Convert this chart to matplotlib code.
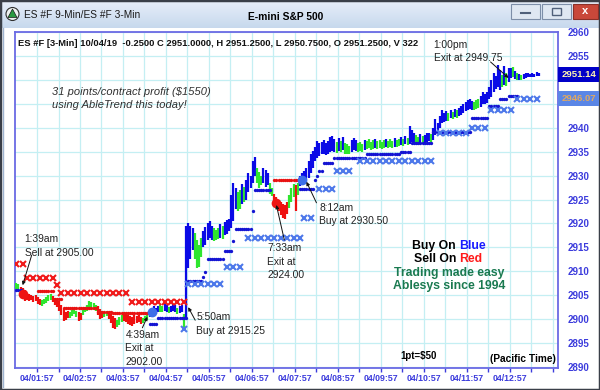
import numpy as np
import matplotlib.pyplot as plt
from matplotlib.patches import Rectangle, Circle, Polygon
from matplotlib.transforms import blended_transform_factory

plt.rcParams['font.family'] = ['Liberation Sans', 'DejaVu Sans']

# ---------------- data ----------------
# ES #F 3-min bars, first bar at 01:28 (minutes after midnight)
bar_start = 88
bar_minutes = 3

bar_hi = [
    2907.5, 2907.3, 2906.8, 2906.5, 2906.0, 2905.5, 2905.2, 2905.0, 2904.8, 2905.0,
    2904.6, 2904.2, 2904.0, 2904.3, 2904.6, 2905.0, 2905.2, 2904.8, 2904.5, 2904.2,
    2903.8, 2903.0, 2902.2, 2901.5, 2901.8, 2901.6, 2902.0, 2902.2, 2901.8, 2901.5,
    2901.2, 2902.0, 2902.6, 2903.0, 2903.8, 2903.6, 2903.4, 2903.0, 2902.8, 2902.2,
    2901.8, 2901.6, 2901.8, 2901.4, 2901.0, 2900.6, 2900.2, 2899.8, 2900.4, 2900.8,
    2901.0, 2901.2, 2900.8, 2900.6, 2900.4, 2900.8, 2900.6, 2900.9, 2900.4, 2900.2,
    2900.6, 2900.8, 2901.6, 2902.4, 2902.7, 2902.4, 2902.8, 2903.0, 2902.8, 2903.3,
    2903.0, 2902.6, 2902.8, 2903.2, 2902.9, 2902.4, 2902.8, 2903.0, 2901.0, 2919.5,
    2920.0, 2919.5, 2919.0, 2918.0, 2916.5, 2915.5, 2917.0, 2918.5, 2919.2, 2920.0,
    2920.5, 2919.5, 2919.0, 2918.6, 2919.0, 2919.8, 2919.4, 2920.2, 2920.8, 2921.0,
    2926.0, 2928.5, 2927.5, 2926.5, 2927.0, 2928.2, 2927.6, 2929.0, 2930.6, 2930.0,
    2933.0, 2933.9, 2931.6, 2930.8, 2930.0, 2931.5, 2931.2, 2930.5, 2928.5, 2927.5,
    2926.2, 2925.5, 2925.0, 2924.5, 2924.0, 2923.8, 2924.5, 2926.0, 2927.5, 2928.3,
    2928.0, 2928.5, 2930.0, 2930.5, 2931.0, 2931.5, 2933.0, 2934.5, 2935.2, 2936.0,
    2937.3, 2936.8, 2937.0, 2937.5, 2936.8, 2937.2, 2938.0, 2938.3, 2937.6, 2937.0,
    2937.8, 2937.2, 2938.0, 2936.8, 2936.6, 2936.2, 2937.4, 2937.8, 2937.5, 2936.8,
    2937.0, 2936.6, 2937.4, 2937.2, 2937.6, 2937.0, 2937.4, 2937.7, 2937.2, 2937.5,
    2937.0, 2937.4, 2937.7, 2937.3, 2937.6, 2937.2, 2937.8, 2937.5, 2937.7, 2938.0,
    2937.6, 2938.2, 2937.8, 2940.4, 2939.5, 2938.8, 2938.4, 2938.0, 2938.6, 2938.2,
    2938.5, 2939.0, 2938.8, 2938.6, 2940.0, 2941.9, 2941.0, 2942.5, 2943.6, 2943.0,
    2943.4, 2943.0, 2943.8, 2943.2, 2944.0, 2943.6, 2944.2, 2944.6, 2945.0, 2945.4,
    2945.8, 2946.1, 2945.6, 2945.4, 2945.8, 2946.0, 2946.6, 2947.4, 2947.0, 2947.5,
    2948.5, 2950.0, 2951.5, 2950.8, 2953.2, 2952.0, 2951.0, 2953.0, 2951.5, 2952.4,
    2952.4, 2952.6, 2951.8, 2951.4, 2951.3, 2951.0, 2951.2, 2951.4, 2951.5, 2951.3,
    2951.5, 2951.2, 2951.6, 2951.4,
]
bar_lo = [
    2906.3, 2906.0, 2904.8, 2904.2, 2903.8, 2904.0, 2903.7, 2904.0, 2903.5, 2903.9,
    2903.2, 2903.0, 2902.8, 2903.2, 2903.4, 2903.8, 2904.0, 2903.5, 2903.0, 2902.6,
    2901.8, 2900.8, 2899.6, 2899.8, 2900.2, 2900.2, 2900.6, 2901.0, 2900.4, 2899.6,
    2899.8, 2900.8, 2901.4, 2901.8, 2902.4, 2902.2, 2902.0, 2901.8, 2900.8, 2900.0,
    2900.2, 2900.4, 2900.6, 2900.0, 2899.2, 2898.2, 2897.9, 2898.4, 2898.8, 2899.4,
    2899.6, 2899.4, 2899.0, 2898.8, 2898.6, 2899.0, 2899.2, 2899.4, 2899.0, 2899.2,
    2899.6, 2899.8, 2900.4, 2900.8, 2901.2, 2901.0, 2901.4, 2901.6, 2901.4, 2901.8,
    2901.6, 2901.2, 2901.4, 2901.8, 2901.5, 2901.0, 2901.2, 2901.4, 2898.0, 2900.3,
    2910.6, 2912.5, 2914.5, 2912.5, 2910.6, 2911.0, 2913.0, 2915.0, 2915.5, 2916.5,
    2917.0, 2916.5, 2916.3, 2916.5, 2916.8, 2917.0, 2916.8, 2917.5, 2917.8, 2918.4,
    2919.0, 2920.5, 2923.0, 2922.6, 2923.0, 2924.0, 2924.5, 2925.0, 2926.5, 2927.5,
    2928.5, 2930.0, 2928.5, 2927.4, 2928.0, 2928.5, 2927.6, 2928.0, 2926.2, 2925.8,
    2924.0, 2923.2, 2922.5, 2921.8, 2921.2, 2921.0, 2922.0, 2923.3, 2924.5, 2925.5,
    2922.5, 2926.0, 2927.8, 2928.0, 2928.5, 2929.0, 2929.5, 2930.5, 2931.5, 2933.0,
    2933.7, 2934.0, 2934.5, 2934.5, 2934.2, 2934.6, 2935.0, 2935.2, 2935.0, 2934.8,
    2935.2, 2935.0, 2935.4, 2934.6, 2934.5, 2934.6, 2935.0, 2935.4, 2935.2, 2935.0,
    2935.2, 2935.0, 2935.4, 2935.6, 2935.8, 2935.4, 2935.6, 2935.8, 2935.6, 2935.8,
    2935.6, 2935.8, 2936.0, 2935.8, 2936.0, 2935.8, 2936.0, 2936.0, 2936.2, 2936.4,
    2936.2, 2936.5, 2936.4, 2936.6, 2937.0, 2936.8, 2936.6, 2936.4, 2936.8, 2936.6,
    2936.8, 2937.0, 2937.2, 2937.0, 2937.5, 2938.5, 2939.0, 2940.0, 2941.0, 2941.2,
    2941.5, 2941.5, 2942.0, 2941.8, 2942.2, 2942.0, 2942.4, 2942.6, 2943.0, 2943.4,
    2943.6, 2944.0, 2943.8, 2943.6, 2944.0, 2944.2, 2944.4, 2945.0, 2945.0, 2945.2,
    2946.0, 2946.5, 2947.5, 2948.0, 2948.5, 2947.8, 2948.5, 2949.0, 2948.8, 2949.5,
    2950.3, 2950.6, 2950.2, 2950.0, 2949.9, 2950.0, 2950.2, 2950.4, 2950.6, 2950.5,
    2950.7, 2950.6, 2950.8, 2950.8,
]
# AbleTrend bar colour: B = up trend, G = neutral, R = down trend
bar_colour = ("GGRRRRRRRR" "RRGGGGGRRR" "RRRRRGGGGR" "RGGGGGGGRR" "RGGRRRRGGG"
              "RRRRRRRRRG" "GGBBBBBGGB" "BGBBBGBBGB" "BBBGGGGBBB" "BBGGGBGBBB"
              "BBBGGBGBBB" "BBGGGBBBGG" "RRRRRRRGGG" "RGBBBBBBBB" "BBBBBBBBBG"
              "BGBGGGBBBG" "GGBGGGGBGG" "GGBGGGBGGB" "GBGBBBGGBG" "BBBGBBBBBB"
              "BGBGBGBBBB" "BBBGGGBBBB" "BBBBBBGBGB" "BGBGBGBBBB" "BBBB")

# stop dots: first bar, last bar, price level, side
dot_first = [0, 10, 18, 22, 38, 45, 62, 66, 80, 87, 88, 89, 97, 101, 102, 110, 111,
             120, 132, 139, 140, 141, 143, 148, 163, 179, 184, 194, 212, 220, 225, 229]
dot_last = [2, 17, 21, 37, 44, 61, 65, 79, 86, 87, 88, 96, 100, 101, 109, 110, 118,
            131, 138, 139, 140, 142, 147, 162, 178, 183, 193, 211, 219, 224, 228, 233]
dot_level = [2906.0, 2905.8, 2904.2, 2902.3, 2901.6, 2901.2, 2899.0, 2900.2, 2908.0,
             2908.8, 2909.8, 2912.5, 2914.2, 2916.3, 2918.8, 2922.6, 2927.0, 2929.0,
             2927.2, 2929.0, 2930.0, 2931.0, 2932.7, 2933.7, 2934.5, 2935.0, 2936.9,
             2939.2, 2942.1, 2944.6, 2946.0, 2946.7]
dot_side = "B" + "RRRRR" + "BBBBBBBBBBB" + "R" + "BBBBBBBBBBBBBB"

# trailing stop crosses (drawn every 3rd bar): first bar, last bar, level, side
x_first = [0, 5, 19, 21, 54, 78, 80, 98, 108, 134, 141, 149, 160, 197, 212, 221, 233]
x_last = [3, 17, 19, 51, 78, 78, 97, 105, 132, 139, 147, 156, 194, 211, 219, 232, 243]
x_level = [2911.5, 2908.5, 2907.2, 2905.4, 2903.5, 2898.0, 2907.3, 2911.0, 2917.0,
           2921.2, 2927.2, 2931.0, 2933.1, 2938.8, 2940.0, 2943.6, 2946.1]
x_side = "RRRRR" + "BBBBBBBBBBBB"

# entry / exit signal circles
sig_bar = [3, 63, 121, 133]
sig_price = [2905.3, 2901.6, 2924.3, 2929.0]
sig_side = "RBRB"

# trade notes: bar, price the arrow points at, text lines
note_bar = [3, 61, 80, 121, 135, 229]
note_price = [2907.1, 2900.5, 2902.5, 2923.85, 2928.7, 2950.4]
note_lines = [["1:39am", "Sell at 2905.00"],
              ["4:39am", "Exit at", "2902.00"],
              ["5:50am", "Buy at 2915.25"],
              ["7:33am", "Exit at", "2924.00"],
              ["8:12am", "Buy at 2930.50"],
              ["1:00pm", "Exit at 2949.75"]]
# offsets in pixels from the arrow tip: arrow tail, first text line
note_tail = [(9, 30), (-5, -11), (7, -13), (8, -35), (10, -21), (-18, 16)]
note_text = [(2, 46), (-22, -18), (8, -10), (-9, -43), (13, -26), (-75, 33)]

hour_ticks = [117, 177, 237, 297, 357, 417, 477, 537, 597, 657, 717, 777]
hour_labels = ["04/01:57", "04/02:57", "04/03:57", "04/04:57", "04/05:57", "04/06:57",
               "04/07:57", "04/08:57", "04/09:57", "04/10:57", "04/11:57", "04/12:57"]
price_ticks = [2890, 2895, 2900, 2905, 2910, 2915, 2920, 2925, 2930, 2935, 2940,
               2945, 2950, 2955, 2960]
# 2950 and 2945 sit under the last-price / stop boxes
price_labels = ["2890", "2895", "2900", "2905", "2910", "2915", "2920", "2925", "2930",
                "2935", "2940", "", "", "2955", "2960"]
last_price = 2951.14
stop_price = 2946.07

header = ("ES #F [3-Min] 10/04/19  -0.2500 C 2951.0000, H 2951.2500, "
          "L 2950.7500, O 2951.2500, V 322")

# ---------------- styles ----------------
bar_pal = {'B': '#0a0ae6', 'G': '#2ee62e', 'R': '#ee1010'}
dot_pal = {'B': '#1414d2', 'R': '#e81212'}
x_pal = {'B': '#4d78ea', 'R': '#f01a1a'}
sig_pal = {'B': '#3d6fe8', 'R': '#ee1414'}
axis_blue = '#3c3cdc'
grid_col = '#c4eff3'

fig = plt.figure(figsize=(6, 3.9), dpi=100)

# window chrome drawn in pixel coordinates
chrome = fig.add_axes([0, 0, 1, 1])
top_col = np.array([0.90, 0.93, 0.975])
bot_col = np.array([0.78, 0.85, 0.93])
grad = np.linspace(0, 1, 40)[:, None, None]
chrome.imshow(top_col + (bot_col - top_col) * grad, extent=(0, 600, 28, 2), aspect='auto')
chrome.set_xlim(0, 600)
chrome.set_ylim(390, 0)
chrome.axis('off')
px = chrome.transData

chrome.add_patch(Rectangle((0, 0), 600, 390, fill=False, ec='#3a3f48', lw=2.5))
chrome.plot([3, 3], [28, 387], color='#9fb4d0', lw=1)
chrome.add_patch(Circle((12.5, 14), 6.5, fc='#eef2f0', ec='#303030', lw=0.8))
chrome.add_patch(Polygon([(12.5, 9), (8, 17.5), (17, 17.5)], fc='#2a9a40', ec='#1a1a1a', lw=0.5))
chrome.text(24, 15, "ES #F 9-Min/ES #F 3-Min", fontsize=7.3, va='center', color='#1a1a1a')
chrome.text(286, 17, "E-mini S&P 500", fontsize=7.4, fontweight='bold', ha='center', va='center')

chrome.add_patch(Rectangle((511, 4), 29, 15, fc='#dfe7f2', ec='#7d8ea8', lw=0.8))
chrome.plot([521, 530], [13, 13], color='#50607a', lw=1.5)
chrome.add_patch(Rectangle((542, 4), 29, 15, fc='#dfe7f2', ec='#7d8ea8', lw=0.8))
chrome.add_patch(Rectangle((552, 8), 9, 7, fill=False, ec='#50607a', lw=1))
chrome.add_patch(Rectangle((573, 4), 25, 15, fc='#c9483a', ec='#8a3028', lw=0.8))
chrome.text(585.5, 11.5, "x", color='white', fontsize=8, fontweight='bold', ha='center', va='center')

# ---------------- price chart ----------------
ax = fig.add_axes([15 / 600, 1 - 368 / 390, 543 / 600, 336 / 390])
t = bar_start + bar_minutes * np.arange(len(bar_hi))

ax.vlines(t, bar_lo, bar_hi, colors=[bar_pal[c] for c in bar_colour], lw=1.6, zorder=4)

for a, b, lev, s in zip(dot_first, dot_last, dot_level, dot_side):
    tt = t[a:b + 1]
    ax.plot(tt, np.full(len(tt), lev), 'o', ms=2.4, mec='none', color=dot_pal[s], zorder=4.5)

for a, b, lev, s in zip(x_first, x_last, x_level, x_side):
    tt = t[a:b + 1:3]
    ax.plot(tt, np.full(len(tt), lev), 'x', ms=4.4, mew=1.5, color=x_pal[s], zorder=5)

for b, p, s in zip(sig_bar, sig_price, sig_side):
    ax.plot(t[b], p, 'o', ms=7, mec='none', color=sig_pal[s], zorder=6)

for b, p, lines, tail, txt in zip(note_bar, note_price, note_lines, note_tail, note_text):
    ax.annotate('', xy=(t[b], p), xytext=tail, textcoords='offset pixels',
                arrowprops=dict(arrowstyle='-|>', color='#111111', lw=0.7,
                                mutation_scale=5, shrinkA=0, shrinkB=0), zorder=7)
    for k, line in enumerate(lines):
        ax.annotate(line, xy=(t[b], p), xytext=(txt[0], txt[1] - 13.5 * k),
                    textcoords='offset pixels', ha='left', va='center',
                    fontsize=7.4, color='#222222', zorder=7)

ax.set_xlim(86.3, 844.0)
ax.set_ylim(2889.8, 2960)

ax.set_xticks(hour_ticks, hour_labels)
ax.set_xticks([h + 30 for h in hour_ticks] + [hour_ticks[-1] + 60], minor=True)
ax.tick_params(axis='x', which='both', direction='out', length=3, width=1,
               color=axis_blue, pad=1.5, labelsize=6.3, labelcolor=axis_blue)
for lab in ax.get_xticklabels():
    lab.set_fontweight('bold')

ax.yaxis.tick_right()
ax.set_yticks(price_ticks, price_labels)
ax.tick_params(axis='y', length=0, pad=7, labelsize=7, labelcolor=axis_blue)
for lab in ax.get_yticklabels():
    lab.set_fontweight('bold')

ax.grid(True, which='both', axis='x', color=grid_col, lw=0.9)
ax.grid(True, axis='y', color=grid_col, lw=0.9)
ax.set_axisbelow(True)
for sp in ax.spines.values():
    sp.set_color('#6a6ae4')
    sp.set_linewidth(1.3)

# last price / stop boxes on the price scale
edge = blended_transform_factory(ax.transAxes, ax.transData)
ax.text(1.006, last_price, f"{last_price:.2f}", transform=edge, ha='left', va='center',
        fontsize=6.8, fontweight='bold', color='#fff6b0', clip_on=False,
        bbox=dict(boxstyle='square,pad=0.3', fc='#0000c8', ec='none'))
ax.text(1.006, stop_price, f"{stop_price:.2f}", transform=edge, ha='left', va='center',
        fontsize=6.8, fontweight='bold', color='#e0a860', clip_on=False,
        bbox=dict(boxstyle='square,pad=0.3', fc='#5a86e6', ec='none'))

# texts on the chart (pixel positions)
ax.text(18, 43, header, transform=px, fontsize=6.75, fontweight='bold', va='center', color='#111111')
ax.text(52, 92, "31 points/contract profit ($1550)", transform=px, fontsize=8,
        style='italic', va='center', color='#303030')
ax.text(52, 105, "using AbleTrend this today!", transform=px, fontsize=8,
        style='italic', va='center', color='#303030')

bold = dict(transform=px, fontsize=8.8, fontweight='bold', va='center')
ax.text(456, 246, "Buy On", ha='right', color='black', **bold)
ax.text(459, 246, "Blue", ha='left', color='#1a1aff', **bold)
ax.text(456, 259, "Sell On", ha='right', color='black', **bold)
ax.text(459, 259, "Red", ha='left', color='#ff1a1a', **bold)
ax.text(449, 273, "Trading made easy", ha='center', color='#1a7a50', **bold)
ax.text(449, 286, "Ablesys since 1994", ha='center', color='#1a7a50', **bold)

ax.text(400, 356, "1pt=$50", transform=px, fontsize=7, fontweight='bold', va='center')
ax.text(556, 359, "(Pacific Time)", transform=px, fontsize=7.3, fontweight='bold',
        ha='right', va='center')

fig.savefig("out.png", dpi=100)
